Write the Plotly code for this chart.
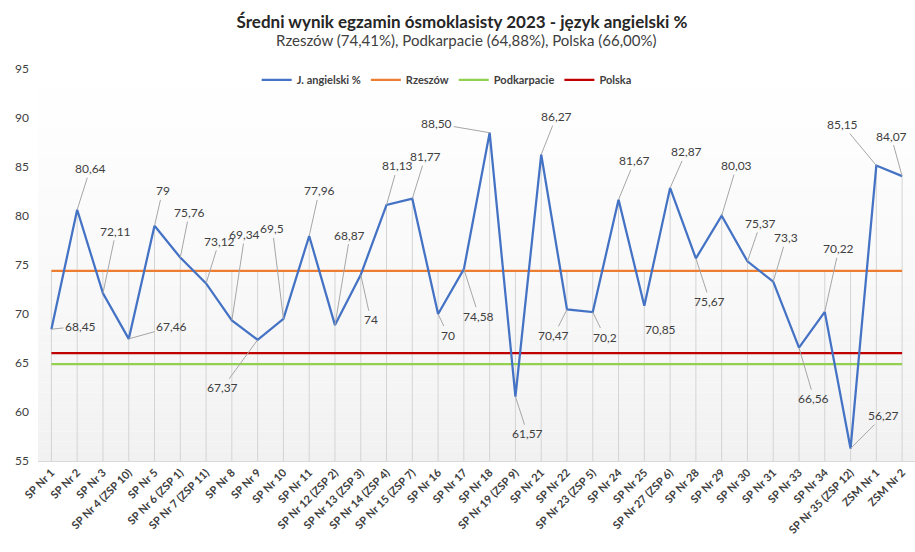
import plotly.graph_objects as go

categories = ["SP Nr 1", "SP Nr 2", "SP Nr 3", "SP Nr 4 (ZSP 10)", "SP Nr 5", "SP Nr 6 (ZSP 1)",
              "SP Nr 7 (ZSP 11)", "SP Nr 8", "SP Nr 9", "SP Nr 10", "SP Nr 11", "SP Nr 12 (ZSP 2)",
              "SP Nr 13 (ZSP 3)", "SP Nr 14 (ZSP 4)", "SP Nr 15 (ZSP 7)", "SP Nr 16", "SP Nr 17",
              "SP Nr 18", "SP Nr 19 (ZSP 9)", "SP Nr 21", "SP Nr 22", "SP Nr 23 (ZSP 5)", "SP Nr 24",
              "SP Nr 25", "SP Nr 27 (ZSP 6)", "SP Nr 28", "SP Nr 29", "SP Nr 30", "SP Nr 31",
              "SP Nr 33", "SP Nr 34", "SP Nr 35 (ZSP 12)", "ZSM Nr 1", "ZSM Nr 2"]

angielski = [68.45, 80.64, 72.11, 67.46, 79, 75.76, 73.12, 69.34, 67.37, 69.5, 77.96, 68.87,
             74, 81.13, 81.77, 70, 74.58, 88.50, 61.57, 86.27, 70.47, 70.2, 81.67, 70.85,
             82.87, 75.67, 80.03, 75.37, 73.3, 66.56, 70.22, 56.27, 85.15, 84.07]

value_labels = ["68,45", "80,64", "72,11", "67,46", "79", "75,76", "73,12", "69,34", "67,37",
                "69,5", "77,96", "68,87", "74", "81,13", "81,77", "70", "74,58", "88,50",
                "61,57", "86,27", "70,47", "70,2", "81,67", "70,85", "82,87", "75,67", "80,03",
                "75,37", "73,3", "66,56", "70,22", "56,27", "85,15", "84,07"]

rzeszow = 74.41
podkarpacie = 64.88
polska = 66.00

y_ticks = [55, 60, 65, 70, 75, 80, 85, 90, 95]

# label offsets in pixels (style only)
label_offsets = [(29, -3), (13, -41), (13, -62), (43, -12), (8, -35), (9, -45), (13, -42),
                 (13, -86), (-35, 48), (-11, -90), (10, -45), (15, -90), (10, 45), (11, -39),
                 (13, -42), (10, 21), (15, 47), (-53, -9), (12, 37), (15, -38), (-13, 26),
                 (12, 25), (16, -39), (16, 24), (16, -36), (14, 43), (15, -50), (13, -38),
                 (13, -44), (15, 51), (14, -63), (33, -33), (-34, -41), (-11, -40)]

FONT = "Lato"
n = len(categories)
idx = list(range(n))

fig = go.Figure()

# background gradient strips (white at top, light grey at bottom)
steps = 40
for k in range(steps):
    t = k / (steps - 1)
    g = int(round(241 + (255 - 241) * t ** 0.8))
    fig.add_shape(type="rect", xref="paper", yref="paper", x0=0, x1=1,
                  y0=k / steps, y1=(k + 1) / steps, line=dict(width=0),
                  fillcolor=f"rgb({g},{g},{g})", layer="below")

# drop lines
dx, dy = [], []
for i, v in enumerate(angielski):
    dx += [i, i, None]
    dy += [y_ticks[0], max(v, rzeszow, podkarpacie, polska), None]
fig.add_trace(go.Scatter(x=dx, y=dy, mode="lines", line=dict(color="#d4d4d4", width=1),
                         showlegend=False, hoverinfo="skip"))

fig.add_trace(go.Scatter(x=idx, y=[podkarpacie] * n, mode="lines", name="Podkarpacie",
                         line=dict(color="#92d050", width=2.25), legendrank=3))
fig.add_trace(go.Scatter(x=idx, y=[polska] * n, mode="lines", name="Polska",
                         line=dict(color="#c00000", width=2.25), legendrank=4))
fig.add_trace(go.Scatter(x=idx, y=[rzeszow] * n, mode="lines", name="Rzeszów",
                         line=dict(color="#ed7d31", width=2.25), legendrank=2))
fig.add_trace(go.Scatter(x=idx, y=angielski, mode="lines", name="J. angielski %",
                         line=dict(color="#4472c4", width=2.25), legendrank=1))

for i, (v, lab) in enumerate(zip(angielski, value_labels)):
    ax, ay = label_offsets[i]
    fig.add_annotation(x=i, y=v, text=lab, showarrow=True, arrowhead=0, arrowwidth=1,
                       arrowcolor="#a6a6a6", ax=ax, ay=ay, standoff=0,
                       font=dict(family=FONT, size=12, color="#404040"))

fig.update_layout(
    width=915, height=552,
    paper_bgcolor="white", plot_bgcolor="white",
    margin=dict(l=38, r=0, t=69, b=91),
    font=dict(family=FONT, color="#404040"),
    title=dict(text="<b>Średni wynik egzamin ósmoklasisty 2023 - język angielski %</b>",
               x=(462 - 38) / 877, xanchor="center", xref="paper", y=1 - 22 / 552,
               yanchor="middle", yref="container",
               font=dict(family=FONT, size=17, color="#262626")),
    legend=dict(orientation="h", x=0.466, xanchor="center", y=0.972, yanchor="middle",
                font=dict(family=FONT, size=11, color="#404040", weight="bold"),
                itemwidth=30, bgcolor="rgba(0,0,0,0)", traceorder="normal"),
    showlegend=True,
)
fig.add_annotation(text="Rzeszów (74,41%), Podkarpacie (64,88%), Polska (66,00%)",
                   xref="paper", yref="paper", x=(466 - 38) / 877, y=(461 - 40) / 392,
                   showarrow=False, yanchor="middle", xanchor="center",
                   font=dict(family=FONT, size=15, color="#404040"))

fig.update_xaxes(range=[-0.52, 33.5], tickmode="array", tickvals=idx, ticktext=categories,
                 tickangle=-45, showgrid=False, zeroline=False, showline=True,
                 linecolor="#d9d9d9", linewidth=1, ticks="", automargin=False,
                 tickfont=dict(family=FONT, size=11, color="#404040", weight="bold"))
fig.update_yaxes(range=[55, 95], tickmode="array", tickvals=y_ticks,
                 showgrid=False, zeroline=False, showline=False, ticks="",
                 ticklabelstandoff=8, automargin=False,
                 tickfont=dict(family=FONT, size=12, color="#404040"))

fig.write_html("out.html", config={"displayModeBar": False},
               post_script="document.body.style.margin='0';document.body.style.overflow='hidden';")
